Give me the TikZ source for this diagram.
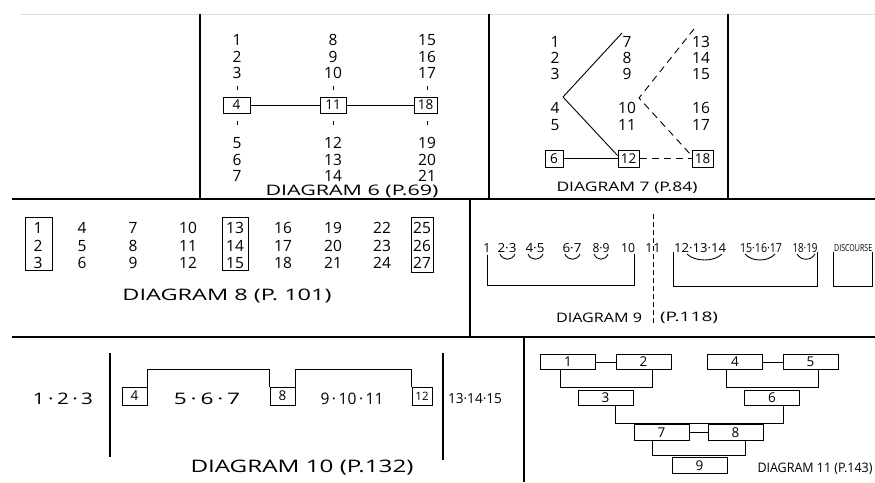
\documentclass[tikz,border=0pt]{standalone}
\usepackage{fontspec}
\setmainfont{Open Sans}
\usepackage{graphicx}
\newcommand{\dcap}[3]{\resizebox{#1pt}{#2pt}{#3}}
\tikzset{
  frame/.style={line width=2pt, black},
  thinline/.style={line width=0.9pt, black},
  dashline/.style={line width=0.9pt, dash pattern=on 7pt off 5pt},
  vdash/.style={line width=0.9pt, dash pattern=on 5pt off 3pt},
  num/.style={font=\fontsize{15.5}{15.5}\selectfont, inner sep=0pt},
  smallnum/.style={font=\fontsize{12.5}{12.5}\selectfont, inner sep=0pt},
  boxn/.style={draw, line width=1pt, inner sep=0pt, font=\fontsize{13.5}{13.5}\selectfont},
  capnode/.style={inner sep=0pt},
}
\begin{document}
\begin{tikzpicture}[x=1pt,y=-1pt]
\useasboundingbox (0,0) rectangle (875,482);
\clip (0,0) rectangle (875,482);
\fill[white] (0,0) rectangle (875,482);

% faint top line
\draw[gray!25, line width=0.6pt] (20,14) -- (875,14);

% ---------- frame ----------
\draw[frame] (200,14) -- (200,198);
\draw[frame] (489,14) -- (489,198);
\draw[frame] (728,14) -- (728,199);
\draw[frame] (12,199) -- (875,199);
\draw[frame] (470,199) -- (470,337);
\draw[frame] (12,337) -- (875,337);
\draw[frame] (524,337) -- (524,482);

% ---------- Diagram 6 ----------
\foreach \t/\y [count=\i] in {1/40,2/57,3/73,5/143,6/160,7/176}
  \node[num] (d6a\i) at (237,\y) {\t};
\foreach \t/\y [count=\i] in {8/40,9/57,10/73,12/143,13/160,14/176}
  \node[num] (d6b\i) at (333,\y) {\t};
\foreach \t/\y [count=\i] in {15/40,16/57,17/73,19/143,20/160,21/176}
  \node[num] (d6c\i) at (427,\y) {\t};
\node[boxn, minimum width=27pt, minimum height=16pt] (d6x4) at (236.5,105) {4};
\node[boxn, minimum width=26pt, minimum height=16pt] (d6x11) at (333,105) {11};
\node[boxn, minimum width=23pt, minimum height=16pt] (d6x18) at (425.5,105) {18};
\draw[thinline] (d6x4) -- (d6x11) -- (d6x18);
\foreach \x in {237,333,427} {
  \draw[thinline] (\x,86) -- (\x,90);
  \draw[thinline] (\x,121) -- (\x,125);
}
\node[capnode] (cap6) at (352,191) {\dcap{173}{10.5}{DIAGRAM 6 (P.69)}};

% ---------- Diagram 7 ----------
\foreach \t/\y [count=\i] in {1/42,2/58,3/74,4/108,5/125}
  \node[num] (d7a\i) at (555,\y) {\t};
\foreach \t/\y [count=\i] in {7/42,8/58,9/74,10/108,11/125}
  \node[num] (d7b\i) at (627,\y) {\t};
\foreach \t/\y [count=\i] in {13/42,14/58,15/74,16/108,17/125}
  \node[num] (d7c\i) at (701,\y) {\t};
\node[boxn, minimum width=18pt, minimum height=17pt] (d7x6) at (554,158.5) {6};
\node[boxn, minimum width=21pt, minimum height=17pt] (d7x12) at (628.5,158.5) {12};
\node[boxn, minimum width=21pt, minimum height=17pt] (d7x18) at (702.5,158.5) {18};
\coordinate (d7s1) at (622,33);
\coordinate (d7s2) at (563,97);
\draw[thinline] (d7s1) -- (d7s2) -- ([yshift=3pt]d7x12.west);
\draw[thinline] (d7x6) -- (d7x12);
\coordinate (d7t1) at (694,29);
\coordinate (d7t2) at (639,98);
\draw[dashline] (d7t1) -- (d7t2) -- ([yshift=3pt]d7x18.west);
\draw[dashline] (d7x12) -- (d7x18);
\node[capnode] (cap7) at (627,188) {\dcap{141}{9.5}{DIAGRAM 7 (P.84)}};

% ---------- Diagram 8 ----------
\foreach \x [count=\c from 0] in {38,82,133,188,235,283,333,382,422} {
  \foreach \r/\y in {1/228,2/246,3/263} {
    \pgfmathtruncatemacro{\n}{3*\c+\r}
    \node[num] (d8n\n) at (\x,\y) {\n};
  }
}
\node[draw, line width=1pt, minimum width=27pt, minimum height=53pt, inner sep=0pt] (d8g1) at (38.5,243.5) {};
\node[draw, line width=1pt, minimum width=26pt, minimum height=53pt, inner sep=0pt] (d8g2) at (235,243.5) {};
\node[draw, line width=1pt, minimum width=22pt, minimum height=55pt, inner sep=0pt] (d8g3) at (422,244.5) {};
\node[capnode] (cap8) at (227,296) {\dcap{209}{11.5}{DIAGRAM 8 (P. 101)}};

% ---------- Diagram 9 ----------
\node[smallnum] (d9n1) at (487,248) {1};
\node[capnode] (d9n23) at (507,248) {\dcap{19}{9}{2·3}};
\node[capnode] (d9n45) at (535,248) {\dcap{19}{9}{4·5}};
\node[capnode] (d9n67) at (572,248) {\dcap{19}{9}{6·7}};
\node[capnode] (d9n89) at (601,248) {\dcap{17}{9}{8·9}};
\node[capnode] (d9n10) at (628,248) {\dcap{14}{9}{10}};
\node[smallnum] (d9n11a) at (649,248) {1};
\node[smallnum] (d9n11b) at (657,248) {1};
\node[capnode] (d9r1) at (700,248) {\dcap{52}{9}{12·13·14}};
\node[capnode] (d9r2) at (761,248) {\dcap{42}{9}{15·16·17}};
\node[capnode] (d9r3) at (805,248) {\dcap{25}{9}{18·19}};
\node[capnode, anchor=west] (d9disc) at (834,248) {\dcap{38}{7}{DISCOURSE}};
% smiles
\foreach \a/\b in {500/515,528/543,565/580,594/608} {
  \draw[thinline] (\a,254) .. controls (\a+3,261) and (\b-3,261) .. (\b,254);
}
\draw[thinline] (687,254) .. controls (695,262) and (714,262) .. (722,254);
\draw[thinline] (745,254) .. controls (752,262) and (768,262) .. (775,254);
\draw[thinline] (797,254) .. controls (801,261) and (811,261) .. (815,254);
% brackets
\draw[thinline] ([yshift=-2pt]d9n1.south) |- (634,285) coordinate (d9c1) -- ([xshift=6pt,yshift=-1pt]d9n10.south);
\draw[thinline] (673,252) coordinate (d9c2) |- (817,286) -- (817,252);
\draw[thinline] (833,252) coordinate (d9c3) |- (872,286) -- (872,252);
\coordinate (d9v1) at (653,214);
\coordinate (d9v2) at (653,324);
\draw[vdash] (d9v1) -- (d9v2);
\node[capnode] (cap9a) at (599,318) {\dcap{86}{9.5}{DIAGRAM 9}};
\node[capnode] (cap9b) at (689,318) {\dcap{58}{9.5}{(P.118)}};

% ---------- Diagram 10 ----------
\coordinate (d10l1) at (110,353);
\coordinate (d10l2) at (110,457);
\coordinate (d10r1) at (443,353);
\coordinate (d10r2) at (443,460);
\draw[line width=1.3pt] (d10l1) -- (d10l2);
\draw[line width=1.3pt] (d10r1) -- (d10r2);
\node[capnode] (d10t1) at (63,399) {\dcap{60}{11.5}{1\,·\,2\,·\,3}};
\node[capnode] (d10t2) at (207,399) {\dcap{66}{11.5}{5\,·\,6\,·\,7}};
\node[capnode] (d10t3) at (352,399) {\dcap{63}{11.5}{9\,·\,10\,·\,11}};
\node[capnode] (d10t4) at (475,399) {\dcap{54}{10}{13·14·15}};
\node[boxn, minimum width=25pt, minimum height=18pt] (d10b4) at (134.5,396) {4};
\node[boxn, minimum width=25pt, minimum height=18pt] (d10b8) at (282.5,396) {8};
\node[boxn, minimum width=20pt, minimum height=18pt, font=\fontsize{11.5}{11.5}\selectfont] (d10b12) at (422,396) {12};
\draw[thinline] (d10b4.north east) -- ++(0,-17) -| (d10b8.north west);
\draw[thinline] (d10b8.north east) -- ++(0,-17) -| (d10b12.north west);
\node[capnode] (cap10) at (302,468) {\dcap{223}{12.5}{DIAGRAM 10 (P.132)}};

% ---------- Diagram 11 ----------
\tikzset{d11box/.style={boxn, minimum width=55pt, minimum height=15.5pt}}
\node[d11box] (d11b1) at (568,362) {1};
\node[d11box] (d11b2) at (643.5,362) {2};
\node[d11box] (d11b3) at (605.5,398) {3};
\node[d11box] (d11b4) at (735,362) {4};
\node[d11box] (d11b5) at (810.5,362) {5};
\node[d11box] (d11b6) at (772,398) {6};
\node[d11box] (d11b7) at (661.5,432.5) {7};
\node[d11box] (d11b8) at (735.5,432.5) {8};
\node[d11box] (d11b9) at (699.5,465.5) {9};
\draw[thinline] (d11b1) -- (d11b2);
\draw[thinline] (d11b4) -- (d11b5);
\draw[thinline] (d11b7) -- (d11b8);
\draw[thinline] ([xshift=-8pt]d11b1.south) -- ++(0,17) -| ([xshift=8.5pt]d11b2.south);
\draw[thinline] ([xshift=-9pt]d11b4.south) -- ++(0,17) -| ([xshift=7.5pt]d11b5.south);
\draw[thinline] ([xshift=9.5pt]d11b3.south) -- ++(0,17) -| ([xshift=11pt]d11b6.south);
\draw[thinline] ([xshift=-9.5pt]d11b7.south) -- ++(0,15) -| ([xshift=9.5pt]d11b8.south);
\node[capnode] (cap11) at (815,469) {\dcap{115}{9.5}{DIAGRAM 11 (P.143)}};
\end{tikzpicture}
\end{document}
